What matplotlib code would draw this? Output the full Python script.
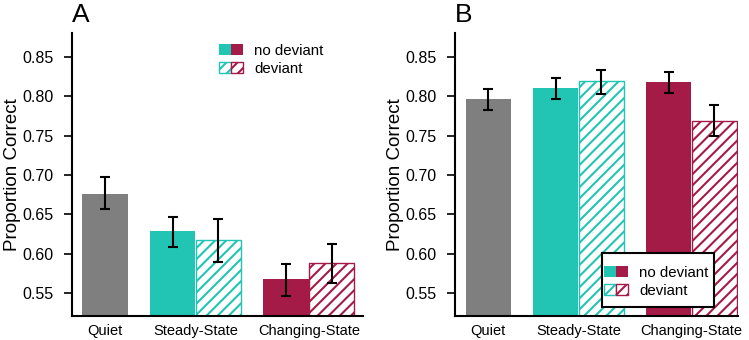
import matplotlib
matplotlib.use("Agg")
import matplotlib.pyplot as plt
from matplotlib.patches import Patch, Rectangle
from matplotlib.legend_handler import HandlerTuple

plt.rcParams['font.family'] = ['Liberation Sans', 'DejaVu Sans']
plt.rcParams['hatch.linewidth'] = 1.5

categories = ["Quiet", "Steady-State", "Changing-State"]

# Panel A values
a_quiet = 0.676
a_quiet_err = (0.656, 0.697)
a_steady = [0.628, 0.617]
a_steady_err = [(0.608, 0.646), (0.589, 0.644)]
a_changing = [0.567, 0.588]
a_changing_err = [(0.546, 0.587), (0.562, 0.612)]

# Panel B values
b_quiet = 0.796
b_quiet_err = (0.782, 0.809)
b_steady = [0.810, 0.820]
b_steady_err = [(0.796, 0.823), (0.803, 0.834)]
b_changing = [0.818, 0.769]
b_changing_err = [(0.804, 0.831), (0.750, 0.789)]

yticks = [0.55, 0.60, 0.65, 0.70, 0.75, 0.80, 0.85]

GRAY = "#7f7f7f"
TEAL = "#22c4b3"
CRIMSON = "#a51b48"

fig = plt.figure(figsize=(7.49, 3.40), dpi=100)

def px_axes(left, right, top, bottom):
    return fig.add_axes([left / 749, 1 - bottom / 340, (right - left) / 749, (bottom - top) / 340])

def draw_panel(ax, quiet, quiet_err, steady, steady_err, changing, changing_err, xlim, letter, label_x):
    gap = 0.47
    pos_q = 0.5
    pos_s = [1 + gap + 0.5, 2 + gap + 0.5]
    pos_c = [3 + 2 * gap + 0.5, 4 + 2 * gap + 0.5]
    ax.bar(pos_q, quiet, width=1, color=GRAY, linewidth=0)
    ax.bar(pos_s[0], steady[0], width=1, color=TEAL, linewidth=0)
    ax.bar(pos_s[1], steady[1], width=0.985, color="white", edgecolor=TEAL, hatch="///", linewidth=1.0)
    ax.bar(pos_c[0], changing[0], width=1, color=CRIMSON, linewidth=0)
    ax.bar(pos_c[1], changing[1], width=0.985, color="white", edgecolor=CRIMSON, hatch="///", linewidth=1.0)
    xs = [pos_q] + pos_s + pos_c
    errs = [quiet_err] + steady_err + changing_err
    for x, (lo, hi) in zip(xs, errs):
        ax.errorbar([x], [(lo + hi) / 2], yerr=[[(hi - lo) / 2], [(hi - lo) / 2]],
                    fmt='none', ecolor='black', elinewidth=1.5, capsize=3.7, capthick=1.5)
    ax.set_ylim(0.5205, 0.8805)
    ax.set_xlim(*xlim)
    ax.set_yticks(yticks)
    ax.set_yticklabels([f"{v:.2f}" for v in yticks], fontsize=11.5)
    ax.set_xticks([pos_q, sum(pos_s) / 2, sum(pos_c) / 2])
    ax.set_xticklabels(categories, fontsize=10.5)
    ax.tick_params(axis='x', length=0, pad=6)
    ax.tick_params(axis='y', length=6, width=1.2, pad=7.5)
    for s in ["top", "right"]:
        ax.spines[s].set_visible(False)
    for s in ["left", "bottom"]:
        ax.spines[s].set_linewidth(1.5)
    ax.set_ylabel("Proportion Correct", fontsize=13.5)
    ax.yaxis.set_label_coords(label_x, 0.5)
    ax.text(0.0, 1.02, letter, transform=ax.transAxes, fontsize=19, ha='left', va='bottom')

axA = px_axes(72, 363, 33, 316)
draw_panel(axA, a_quiet, a_quiet_err, a_steady, a_steady_err, a_changing, a_changing_err,
           (-0.22, 6.12), "A", -50.5 / 291)
axB = px_axes(455, 738, 33, 316)
draw_panel(axB, b_quiet, b_quiet_err, b_steady, b_steady_err, b_changing, b_changing_err,
           (-0.23, 5.96), "B", -50.5 / 283)

def make_handles():
    solid = (Patch(facecolor=TEAL, edgecolor='none'), Patch(facecolor=CRIMSON, edgecolor='none'))
    hatched = (Patch(facecolor='white', edgecolor=TEAL, hatch='///', linewidth=1.0),
               Patch(facecolor='white', edgecolor=CRIMSON, hatch='///', linewidth=1.0))
    return [solid, hatched]

labels = ["no deviant", "deviant"]
leg_kw = dict(handler_map={tuple: HandlerTuple(ndivide=None, pad=0)}, loc='upper left',
              bbox_transform=fig.transFigure, frameon=False, fontsize=10.8, handlelength=1.6,
              handleheight=0.76, handletextpad=0.75, labelspacing=0.27, borderaxespad=0, borderpad=0)
legA = axA.legend(make_handles(), labels, bbox_to_anchor=(219 / 749, 1 - 44 / 340), **leg_kw)
legB = axB.legend(make_handles(), labels, bbox_to_anchor=(604 / 749, 1 - 266 / 340), **leg_kw)
legB.set_zorder(6)

frame = Rectangle((602 / 749, 1 - 307 / 340), (714 - 602) / 749, (307 - 253) / 340,
                  transform=fig.transFigure, facecolor='white', edgecolor='black',
                  linewidth=1.5, zorder=5)
axB.add_artist(frame)
frame.set_clip_on(False)

fig.savefig("out.png", dpi=100)
